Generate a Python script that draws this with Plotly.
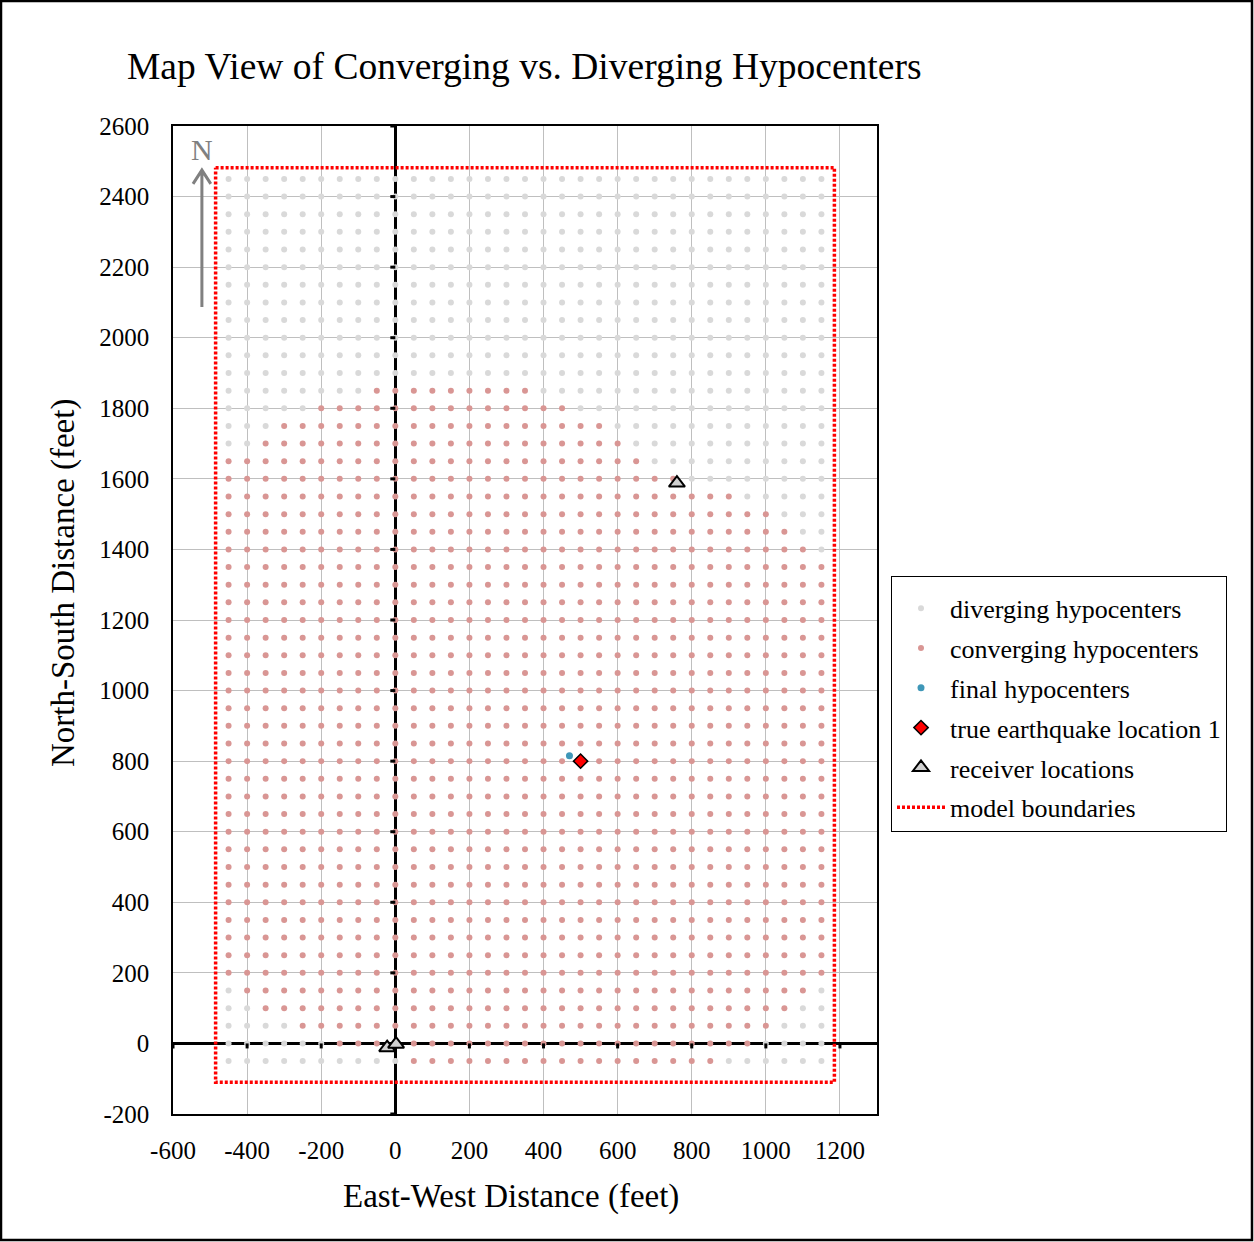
import plotly.graph_objects as go

# ---------------- data ----------------
grid_x = [-450, -400, -350, -300, -250, -200, -150, -100, -50, 0, 50, 100, 150, 200, 250,
          300, 350, 400, 450, 500, 550, 600, 650, 700, 750, 800, 850, 900, 950, 1000,
          1050, 1100, 1150]
grid_y = [-50, 0, 50, 100, 150, 200, 250, 300, 350, 400, 450, 500, 550, 600, 650, 700,
          750, 800, 850, 900, 950, 1000, 1050, 1100, 1150, 1200, 1250, 1300, 1350, 1400,
          1450, 1500, 1550, 1600, 1650, 1700, 1750, 1800, 1850, 1900, 1950, 2000, 2050,
          2100, 2150, 2200, 2250, 2300, 2350, 2400, 2450]

# converging hypocenters: per grid row, first and last converging column
conv_row_y = [1850, 1800, 1750, 1700, 1650, 1600, 1550, 1500, 1450, 1400,
              1350, 1300, 1250, 1200, 1150, 1100, 1050, 1000, 950, 900, 850, 800,
              750, 700, 650, 600, 550, 500, 450, 400, 350, 300, 250, 200,
              150, 100, 50, 0, -50]
conv_x_min = [-50, -200, -300, -350, -450, -450, -450, -450, -450, -450,
              -450, -450, -450, -450, -450, -450, -450, -450, -450, -450, -450, -450,
              -450, -450, -450, -450, -450, -450, -450, -450, -450, -450, -450, -450,
              -400, -350, -250, -150, 50]
conv_x_max = [350, 450, 550, 600, 650, 750, 900, 1000, 1050, 1100,
              1150, 1150, 1150, 1150, 1150, 1150, 1150, 1150, 1150, 1150, 1150, 1150,
              1150, 1150, 1150, 1150, 1150, 1150, 1150, 1150, 1150, 1150, 1150, 1150,
              1100, 1050, 1000, 950, 850]

final_x = [470]
final_y = [815]
true_x = [500]
true_y = [800]
recv_x = [760, -22, 2]
recv_y = [1588, -12, -2]
bound_x = [-485, 1185, 1185, -485, -485]
bound_y = [2482, 2482, -110, -110, 2482]

x_ticks = [-600, -400, -200, 0, 200, 400, 600, 800, 1000, 1200]
y_ticks = [-200, 0, 200, 400, 600, 800, 1000, 1200, 1400, 1600, 1800, 2000, 2200, 2400, 2600]

# ---------------- split grid ----------------
conv_lookup = {yy: (a, b) for yy, a, b in zip(conv_row_y, conv_x_min, conv_x_max)}
div_px, div_py, con_px, con_py = [], [], [], []
for yy in grid_y:
    for xx in grid_x:
        rng = conv_lookup.get(yy)
        if rng and rng[0] <= xx <= rng[1]:
            con_px.append(xx); con_py.append(yy)
        else:
            div_px.append(xx); div_py.append(yy)

FONT = "Liberation Serif"
fig = go.Figure()
fig.add_trace(go.Scatter(x=div_px, y=div_py, mode="markers", name="diverging hypocenters",
                         legendgroup="a",
                         marker=dict(color="#d9d9d9", size=6, line=dict(width=0))))
fig.add_trace(go.Scatter(x=con_px, y=con_py, mode="markers", name="converging hypocenters",
                         legendgroup="b",
                         marker=dict(color="#d99694", size=6, line=dict(width=0))))
fig.add_trace(go.Scatter(x=final_x, y=final_y, mode="markers", name="final hypocenters",
                         legendgroup="c",
                         marker=dict(color="#3f97b8", size=7, line=dict(width=0))))
fig.add_trace(go.Scatter(x=true_x, y=true_y, mode="markers", name="true earthquake location 1",
                         legendgroup="d",
                         marker=dict(color="#ff0000", size=11, symbol="diamond",
                                     line=dict(color="black", width=1.5))))
fig.add_trace(go.Scatter(x=recv_x, y=recv_y, mode="markers", name="receiver locations",
                         legendgroup="e",
                         marker=dict(color="#d0d0d0", size=14, symbol="triangle-up",
                                     line=dict(color="black", width=2))))
fig.add_trace(go.Scatter(x=bound_x, y=bound_y, mode="lines", name="model boundaries",
                         legendgroup="f",
                         line=dict(color="#ff0000", width=3.5, dash="3px,2px")))

# ---------------- decorations ----------------
shapes = []
# tick marks on the crossing (zero) axes
for v in x_ticks:
    if v != 0:
        shapes.append(dict(type="line", xref="x", yref="y", x0=v, x1=v, ysizemode="pixel",
                           yanchor=0, y0=0, y1=-5, line=dict(color="black", width=3)))
for v in y_ticks:
    if v != 0:
        shapes.append(dict(type="line", xref="x", yref="y", y0=v, y1=v, xsizemode="pixel",
                           xanchor=0, x0=0, x1=-5, line=dict(color="black", width=3)))
# north arrow
NX, N_TAIL, N_HEAD, N_ARM_DX, N_ARM_Y = -522, 2087, 2475, 24, 2436
shapes.append(dict(type="path", xref="x", yref="y",
                   path=f"M {NX} {N_TAIL} L {NX} {N_HEAD} M {NX-N_ARM_DX} {N_ARM_Y} L {NX} {N_HEAD} L {NX+N_ARM_DX} {N_ARM_Y}",
                   line=dict(color="#808080", width=3)))
# outer frame of the picture
PL, PW, PB, PH = 173, 704, 1114, 988
def px2px(x):
    return (x - PL) / PW
def py2py(y):
    return (PB - y) / PH
shapes.append(dict(type="rect", xref="paper", yref="paper",
                   x0=px2px(1), x1=px2px(1252), y0=py2py(1), y1=py2py(1240),
                   line=dict(color="black", width=2.5), layer="above"))

annotations = [
    dict(text="N", x=NX, y=2532, xref="x", yref="y", showarrow=False,
         font=dict(family=FONT, size=30, color="#808080")),
    dict(text="Map View of Converging vs. Diverging Hypocenters", x=px2px(524), y=py2py(67),
         xref="paper", yref="paper", showarrow=False, xanchor="center", yanchor="middle",
         font=dict(family=FONT, size=37.5, color="black")),
    dict(text="East-West Distance (feet)", x=px2px(511), y=py2py(1196),
         xref="paper", yref="paper", showarrow=False, xanchor="center", yanchor="middle",
         font=dict(family=FONT, size=33, color="black")),
    dict(text="North-South Distance (feet)", x=px2px(63), y=py2py(583), textangle=-90,
         xref="paper", yref="paper", showarrow=False, xanchor="center", yanchor="middle",
         font=dict(family=FONT, size=33, color="black")),
]

fig.update_layout(
    width=1254, height=1242,
    margin=dict(l=173, r=1254 - 877, t=126, b=1242 - 1114, pad=0),
    paper_bgcolor="white", plot_bgcolor="white",
    showlegend=True,
    legend=dict(x=px2px(891), y=py2py(576), xanchor="left", yanchor="top",
                bordercolor="black", borderwidth=1, bgcolor="white",
                font=dict(family=FONT, size=26, color="black"),
                title=dict(text=" ", font=dict(family=FONT, size=6)),
                itemwidth=48, tracegroupgap=3, traceorder="grouped"),
    shapes=shapes, annotations=annotations,
    font=dict(family=FONT, color="black"),
)
fig.update_xaxes(range=[-600, 1300], tickmode="array", tickvals=x_ticks,
                 ticktext=[str(v) for v in x_ticks],
                 showgrid=True, gridcolor="#bfbfbf", gridwidth=1.3,
                 zeroline=True, zerolinecolor="black", zerolinewidth=3,
                 showline=True, linecolor="black", linewidth=1.5, mirror=True,
                 ticks="", ticklabelstandoff=13,
                 tickfont=dict(family=FONT, size=25, color="black"))
fig.update_yaxes(range=[-200, 2600], tickmode="array", tickvals=y_ticks,
                 ticktext=[str(v) for v in y_ticks],
                 showgrid=True, gridcolor="#bfbfbf", gridwidth=1.3,
                 zeroline=True, zerolinecolor="black", zerolinewidth=3,
                 showline=True, linecolor="black", linewidth=1.5, mirror=True,
                 ticks="", ticklabelstandoff=17,
                 tickfont=dict(family=FONT, size=25, color="black"))

fig.write_html("out.html")
